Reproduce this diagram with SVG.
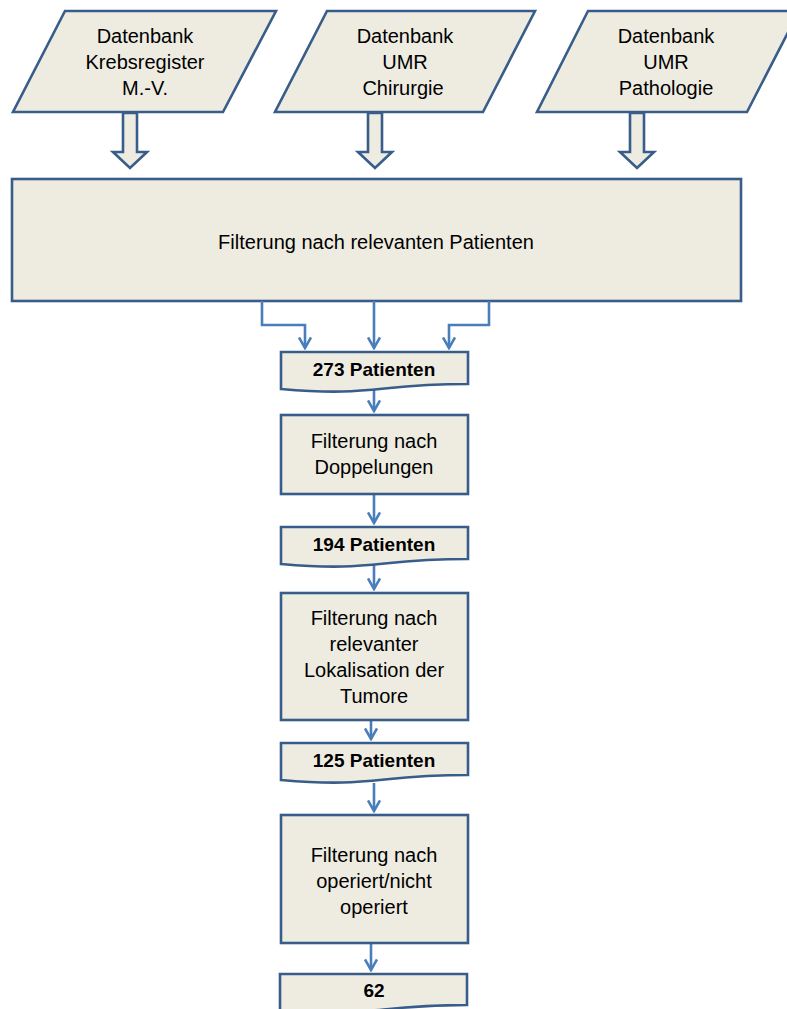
<svg xmlns="http://www.w3.org/2000/svg" width="787" height="1009" viewBox="0 0 787 1009">
<style>
.shape{fill:#eeece1;stroke:#385d8a;stroke-width:2.6;stroke-linejoin:miter}
.t{font-family:"Liberation Sans",Arial,sans-serif;font-size:20px;fill:#000;text-anchor:middle}
.b{font-weight:bold;font-size:19px}
.conn{fill:none;stroke:#4a7ebb;stroke-width:2.6}
</style>
<defs>
<marker id="ah" viewBox="0 0 14 14" refX="12" refY="7" markerWidth="14" markerHeight="14" markerUnits="userSpaceOnUse" orient="auto">
<path d="M1.5,1 L12,7 L1.5,13" fill="none" stroke="#4a7ebb" stroke-width="2.6"/>
</marker>
</defs>
<rect width="787" height="1009" fill="#fff"/>
<g id="db1">
<polygon class="shape" points="65,11 276,11 223,112 13,112"/>
<text class="t" x="145" y="43">Datenbank</text>
<text class="t" x="145" y="69">Krebsregister</text>
<text class="t" x="145" y="95">M.-V.</text>
</g>
<g id="db2">
<polygon class="shape" points="327,11 535,11 483,112 275,112"/>
<text class="t" x="405" y="43">Datenbank</text>
<text class="t" x="405" y="69">UMR</text>
<text class="t" x="403" y="95">Chirurgie</text>
</g>
<g id="db3">
<polygon class="shape" points="588,11 799,11 747,112 537,112"/>
<text class="t" x="666" y="43">Datenbank</text>
<text class="t" x="666" y="69">UMR</text>
<text class="t" x="666" y="95">Pathologie</text>
</g>
<g id="blockarrows">
<polygon class="shape" points="123,113 137,113 137,152 147,152 130,168 113,152 123,152"/>
<polygon class="shape" points="368,113 382,113 382,152 392,152 375,168 358,152 368,152"/>
<polygon class="shape" points="630,113 644,113 644,152 654,152 637,168 620,152 630,152"/>
</g>
<g id="filter1">
<rect class="shape" x="12" y="179" width="729" height="122"/>
<text class="t" x="376" y="249">Filterung nach relevanten Patienten</text>
</g>
<g id="connectors">
<path class="conn" d="M262,301 V325 H305 V348" marker-end="url(#ah)"/>
<path class="conn" d="M374,301 V348" marker-end="url(#ah)"/>
<path class="conn" d="M489,301 V325 H449 V348" marker-end="url(#ah)"/>
<path class="conn" d="M374,390 V411" marker-end="url(#ah)"/>
<path class="conn" d="M374,494 V523" marker-end="url(#ah)"/>
<path class="conn" d="M374,565 V589" marker-end="url(#ah)"/>
<path class="conn" d="M371,720 V739" marker-end="url(#ah)"/>
<path class="conn" d="M374,783 V811" marker-end="url(#ah)"/>
<path class="conn" d="M371,943 V970" marker-end="url(#ah)"/>
</g>
<g id="p273">
<path class="shape" d="M281,352 H468 V384 C374,384 374,397 281,389 Z"/>
<text class="t b" x="374" y="376">273 Patienten</text>
</g>
<g id="filter2">
<rect class="shape" x="281" y="415" width="187" height="79"/>
<text class="t" x="374" y="448">Filterung nach</text>
<text class="t" x="374" y="474">Doppelungen</text>
</g>
<g id="p194">
<path class="shape" d="M281,527 H468 V559 C374,559 374,572 281,564 Z"/>
<text class="t b" x="374" y="551">194 Patienten</text>
</g>
<g id="filter3">
<rect class="shape" x="281" y="593" width="187" height="127"/>
<text class="t" x="374" y="625">Filterung nach</text>
<text class="t" x="374" y="651">relevanter</text>
<text class="t" x="374" y="677">Lokalisation der</text>
<text class="t" x="374" y="703">Tumore</text>
</g>
<g id="p125">
<path class="shape" d="M281,743 H468 V775 C374,775 374,788 281,780 Z"/>
<text class="t b" x="374" y="767">125 Patienten</text>
</g>
<g id="filter4">
<rect class="shape" x="281" y="815" width="187" height="128"/>
<text class="t" x="374" y="862">Filterung nach</text>
<text class="t" x="374" y="888">operiert/nicht</text>
<text class="t" x="374" y="914">operiert</text>
</g>
<g id="p62">
<path class="shape" d="M280,974 H467 V1005 C373,1005 373,1018 280,1010 Z"/>
<text class="t b" x="374" y="997">62</text>
</g>
</svg>
